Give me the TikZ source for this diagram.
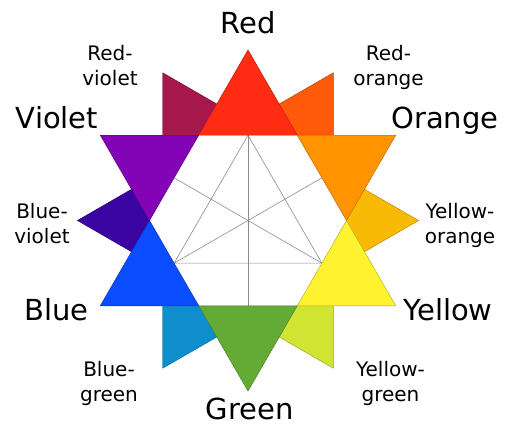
\documentclass[tikz,border=0pt]{standalone}
\usepackage{fontspec}
\setmainfont{DejaVu Sans}
\usetikzlibrary{calc}
\definecolor{cR}{HTML}{FF2B12}
\definecolor{cRO}{HTML}{FF5A0A}
\definecolor{cO}{HTML}{FF9400}
\definecolor{cYO}{HTML}{F9BA05}
\definecolor{cY}{HTML}{FFF22E}
\definecolor{cYG}{HTML}{D2E432}
\definecolor{cG}{HTML}{64AB35}
\definecolor{cBG}{HTML}{0E8FCC}
\definecolor{cB}{HTML}{0A4CFF}
\definecolor{cBV}{HTML}{3A04A2}
\definecolor{cV}{HTML}{8304B6}
\definecolor{cRV}{HTML}{A6184A}
\newcommand\twoline[2]{\begin{tabular}[t]{@{}c@{}}#1\\#2\end{tabular}}
\begin{document}
\begin{tikzpicture}[x=1pt,y=1pt,
  tri/.style={fill=#1, draw=#1!70!black, line width=0.4pt, line join=round},
  big/.style={font=\fontsize{29}{34}\selectfont, anchor=base, inner sep=0pt},
  small/.style={font=\fontsize{20}{25}\selectfont, anchor=base, inner sep=0pt},
  gridline/.style={draw=black!45, line width=0.6pt}]
\useasboundingbox[fill=white] (0,-426) rectangle (516,0);
\coordinate (C) at (248,-220.5);
\def\s{98.5}
\def\R{170.6}
% tertiary triangles (underneath)
\foreach \a/\c in {120/cRV,60/cRO,0/cYO,-60/cYG,-120/cBG,180/cBV}{
  \path[tri=\c] ($(C)+(\a:\R)$) -- ++(\a+210:\s) -- ++(\a+90:\s) -- cycle;
}
% central hexagon
\path[fill=white] ($(C)+(0:\s)$) -- ($(C)+(60:\s)$) -- ($(C)+(120:\s)$)
  -- ($(C)+(180:\s)$) -- ($(C)+(240:\s)$) -- ($(C)+(300:\s)$) -- cycle;
% edge midpoints
\foreach \a in {30,90,150,210,270,330}{
  \coordinate (m\a) at ($(C)+(\a:85.3)$);
}
\draw[gridline] (m90) -- (m210) -- (m330) -- cycle;
\draw[gridline] (m90) -- (m270);
\draw[gridline] (m150) -- (m330);
\draw[gridline] (m30) -- (m210);
% primary and secondary triangles
\foreach \a/\c in {90/cR,30/cO,-30/cY,-90/cG,-150/cB,150/cV}{
  \path[tri=\c] ($(C)+(\a:\R)$) -- ++(\a+210:\s) -- ++(\a+90:\s) -- cycle;
}
% labels
\node[big] (red) at (248.5,-33) {Red};
\node[big] (orange) at (445,-128.3) {Orange};
\node[big] (violet) at (57,-128.3) {Violet};
\node[big] (blue) at (56.7,-320.7) {Blue};
\node[big] (yellow) at (448,-320.7) {Yellow};
\node[big] (green) at (249.5,-419.5) {Green};
\node[small] (redviolet) at (110,-60.7) {\twoline{Red-}{violet}};
\node[small] (redorange) at (388.5,-60.7) {\twoline{Red-}{orange}};
\node[small] (blueviolet) at (42,-218.3) {\twoline{Blue-}{violet}};
\node[small] (yelloworange) at (460,-218.3) {\twoline{Yellow-}{orange}};
\node[small] (bluegreen) at (109,-376.7) {\twoline{Blue-}{green}};
\node[small] (yellowgreen) at (390.5,-376.7) {\twoline{Yellow-}{green}};
\end{tikzpicture}
\end{document}
